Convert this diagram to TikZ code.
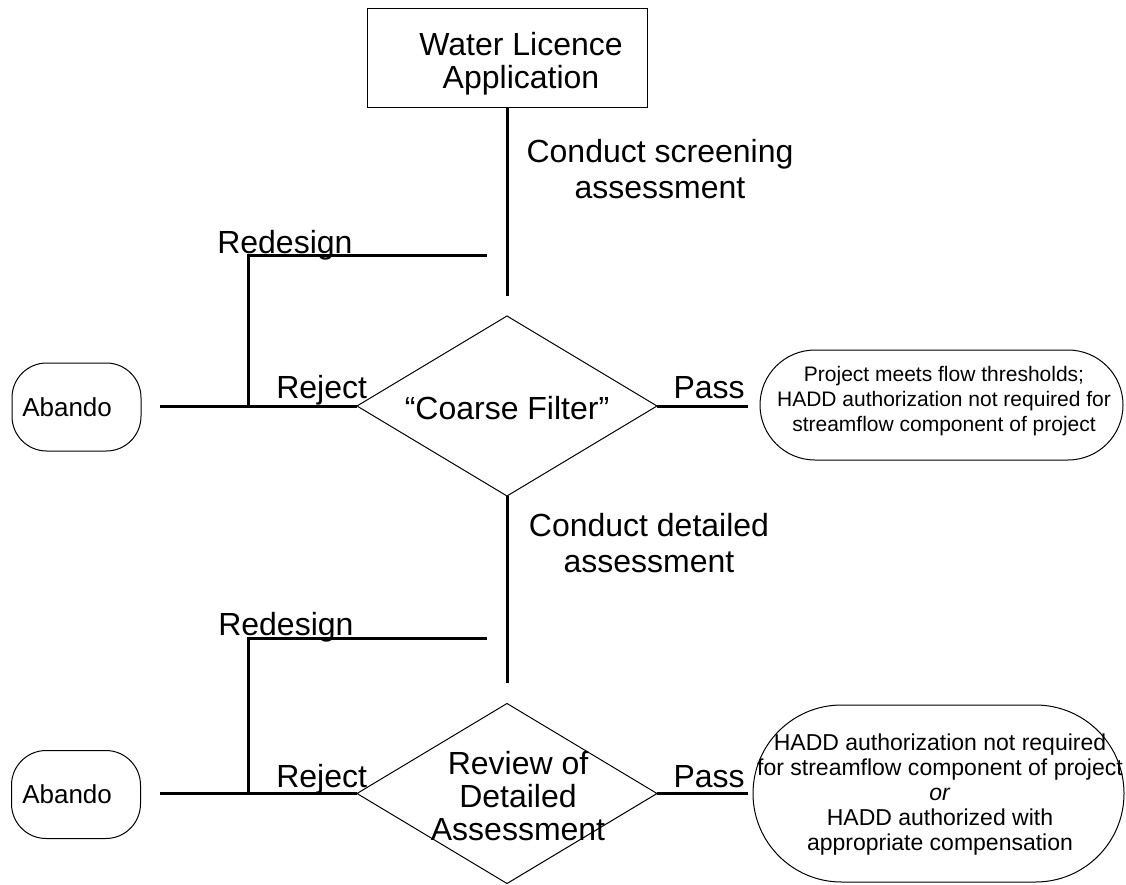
\documentclass[tikz,border=0pt]{standalone}
\usepackage{fontspec}
\setmainfont{Liberation Sans}
\usetikzlibrary{shapes.geometric,shapes.misc}

\begin{document}
\begin{tikzpicture}[x=0.75pt,y=-0.75pt,
  flow/.style={line width=2.25pt},
  thinbox/.style={draw,line width=0.75pt,inner sep=0pt,outer sep=0pt},
  decision/.style={thinbox,diamond,minimum width=225pt,minimum height=135pt},
  endbox/.style={thinbox,rectangle,rounded corners=26pt,minimum width=96.75pt,minimum height=66pt},
  passbox/.style={thinbox,rounded rectangle},
  bigtext/.style={font=\fontsize{24}{24.75}\selectfont,align=center,inner sep=0pt},
  steptext/.style={font=\fontsize{24}{27}\selectfont,align=center,inner sep=0pt},
  abtext/.style={font=\fontsize{19.5}{22}\selectfont,inner sep=0pt}
]
\useasboundingbox (0,0) rectangle (1126,884);

% application and screening
\node[thinbox,minimum width=210pt,minimum height=74.25pt] (app) at (507,58.5) {};
\node[bigtext] (apptext) at (521,63.5) {Water Licence\\Application};
\coordinate (screenend) at (507,296);
\draw[flow] (app.south) -- (screenend);
\node[steptext] (screening) at (660,169) {Conduct screening\\assessment};

\node[decision] (coarse) at (507,406) {};
\node[bigtext] (coarsetext) at (507,408) {“Coarse Filter”};

\coordinate (rejend1) at (160,406);
\coordinate (redjoin1) at (248,406);
\coordinate (redend1) at (487,255);
\draw[flow] (coarse.west) -- (rejend1);
\draw[flow] (redend1) -| (redjoin1);
\node[bigtext,anchor=base west] (redesign1) at (217,253) {Redesign};
\node[bigtext,anchor=base west] (reject1) at (276,398) {Reject};

\node[endbox] (abandon1) at (76.5,407) {};
\node[abtext,anchor=west] (abtext1) at (22,407) {Abando};

\coordinate (passend1) at (748,406);
\draw[flow] (coarse.east) -- (passend1);
\node[bigtext,anchor=base east] (pass1) at (745,398) {Pass};
\node[passbox,minimum width=272.25pt,minimum height=82.5pt] (meets) at (941.5,405) {};
\node[align=center,inner sep=0pt,font=\fontsize{15.75}{18.75}\selectfont] (meetstext) at (944,401)
  {Project meets flow thresholds;\\HADD authorization not required for\\streamflow component of project};

% detailed assessment
\coordinate (detailend) at (507,683);
\draw[flow] (coarse.south) -- (detailend);
\node[steptext] (detailed) at (649,543.5) {Conduct detailed\\assessment};

\node[decision] (review) at (507,793.5) {};
\node[bigtext] (reviewtext) at (518,796.5) {Review of\\Detailed\\Assessment};

\coordinate (rejend2) at (160,793.5);
\coordinate (redjoin2) at (248,793.5);
\coordinate (redend2) at (487,638);
\draw[flow] (review.west) -- (rejend2);
\draw[flow] (redend2) -| (redjoin2);
\node[bigtext,anchor=base west] (redesign2) at (218,635) {Redesign};
\node[bigtext,anchor=base west] (reject2) at (276,787) {Reject};

\node[endbox] (abandon2) at (76,794.5) {};
\node[abtext,anchor=west] (abtext2) at (22,794.5) {Abando};

\coordinate (passend2) at (748,793.5);
\draw[flow] (review.east) -- (passend2);
\node[bigtext,anchor=base east] (pass2) at (745,787) {Pass};
\node[passbox,minimum width=278.25pt,minimum height=132.75pt] (authorized) at (938.5,793.5) {};
\node[align=center,inner sep=0pt,font=\fontsize{17.25}{18.75}\selectfont] (authtext) at (940,795)
  {HADD authorization not required\\for streamflow component of project\\\textit{or}\\HADD authorized with\\appropriate compensation};
\end{tikzpicture}
\end{document}
